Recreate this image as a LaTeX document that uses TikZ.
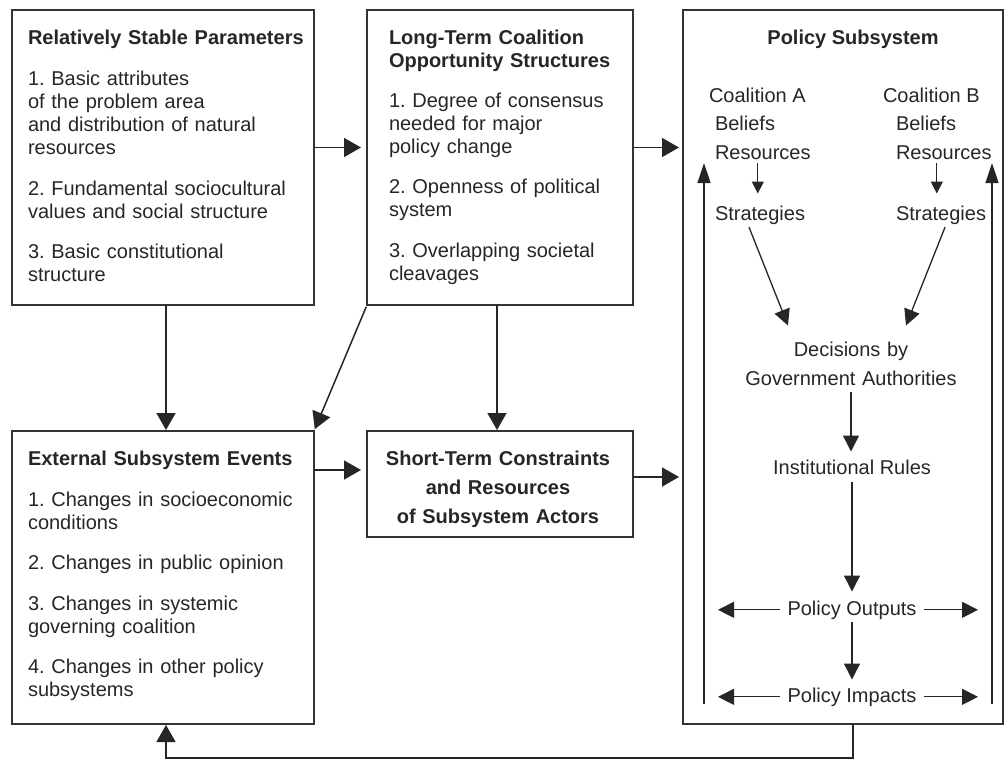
\documentclass[tikz,border=0pt]{standalone}
\usepackage{fontspec}
\setmainfont{Liberation Sans}
\usetikzlibrary{arrows.meta,calc}
\frenchspacing
\begin{document}
\begin{tikzpicture}[x=1pt,y=-1pt,
  box/.style={draw=black!80, line width=1.8pt, inner sep=0pt, outer sep=0pt, anchor=north west},
  txt/.style={inner sep=0pt, outer sep=0pt, font=\fontsize{20}{23}\selectfont, text=black!85},
  big/.style={-{Triangle[length=17pt,width=19pt]}, line width=1.5pt, draw=black!85},
  mid/.style={-{Triangle[length=16pt,width=16pt]}, line width=1.3pt, draw=black!85},
  small/.style={-{Triangle[length=12pt,width=12pt]}, line width=1.3pt, draw=black!85},
  tall/.style={-{Triangle[length=20pt,width=13pt]}, line width=1.3pt, draw=black!85},
]
\useasboundingbox (0,0) rectangle (1005,761);

% boxes
\node[box, minimum width=302pt, minimum height=295pt] (b1) at (12,10) {};
\node[box, minimum width=266pt, minimum height=295pt] (b2) at (367,10) {};
\node[box, minimum width=320pt, minimum height=714pt] (b3) at (683,10) {};
\node[box, minimum width=302pt, minimum height=293pt] (b4) at (12,431) {};
\node[box, minimum width=266pt, minimum height=106pt] (b5) at (367,431) {};

% box texts
\node[txt, text width=284pt, align=left, anchor=base west] (t1) at (28,44)
 {\textbf{Relatively Stable Parameters}\\[18pt]
  1. Basic attributes\\ of the problem area\\ and distribution of natural\\ resources\\[18pt]
  2. Fundamental sociocultural\\ values and social structure\\[17pt]
  3. Basic constitutional\\ structure};
\node[txt, text width=240pt, align=left, anchor=base west] (t2) at (389,44)
 {\textbf{Long-Term Coalition}\\ \textbf{Opportunity Structures}\\[17pt]
  1. Degree of consensus\\ needed for major\\ policy change\\[17pt]
  2. Openness of political\\ system\\[18pt]
  3. Overlapping societal\\ cleavages};
\node[txt, text width=284pt, align=left, anchor=base west] (t4) at (28,465)
 {\textbf{External Subsystem Events}\\[18pt]
  1. Changes in socioeconomic\\ conditions\\[17pt]
  2. Changes in public opinion\\[18pt]
  3. Changes in systemic\\ governing coalition\\[17pt]
  4. Changes in other policy\\ subsystems};
\node[txt, font=\bfseries\fontsize{20}{29}\selectfont, text width=260pt, align=center, anchor=base] (t5) at (498,465)
 {Short-Term Constraints\\ and Resources\\ of Subsystem Actors};

% policy subsystem
\node[txt, font=\bfseries\fontsize{20}{23}\selectfont, anchor=base] (ps) at (853,44) {Policy Subsystem};
\node[txt, anchor=base west] (cA) at (709,102) {Coalition A};
\node[txt, anchor=base west] (bA) at (715,130) {Beliefs};
\node[txt, anchor=base west] (rA) at (715,159) {Resources};
\node[txt, anchor=base west] (sA) at (715,220) {Strategies};
\node[txt, anchor=base west] (cB) at (883,102) {Coalition B};
\node[txt, anchor=base west] (bB) at (896,130) {Beliefs};
\node[txt, anchor=base west] (rB) at (896,159) {Resources};
\node[txt, anchor=base west] (sB) at (896,220) {Strategies};
\node[txt, font=\fontsize{20}{29}\selectfont, text width=240pt, align=center, anchor=base] (dec) at (851,356)
 {Decisions by\\ Government Authorities};
\node[txt, anchor=base] (inst) at (852,474) {Institutional Rules};
\node[txt, anchor=base] (out) at (852,615) {Policy Outputs};
\node[txt, anchor=base] (imp) at (852,702) {Policy Impacts};

\coordinate (lb) at (704,704);
\coordinate (lt) at (704,163);
\coordinate (rb) at (992,704);
\coordinate (rt) at (992,163);

% connectors between boxes
\draw[big, shorten >=6pt] ([yshift=10pt]b1.east) -- ([yshift=10pt]b2.west);
\draw[big, shorten >=4pt] ([yshift=10pt]b2.east) -- ([yshift=10pt]b2.east -| b3.west);
\draw[big, shorten >=1pt] ([xshift=3pt]b1.south) -- ([xshift=3pt]b1.south |- b4.north);
\draw[big, shorten >=1pt] ([xshift=-3pt]b2.south) -- ([xshift=-3pt]b2.south |- b5.north);
\draw[big, shorten <=2pt, shorten >=2pt] (b2.south west) -- (b4.north east);
\draw[big, shorten >=6pt] ([yshift=14pt]b5.west -| b4.east) -- ([yshift=14pt]b5.west);
\draw[big, shorten >=4pt] ([yshift=7pt]b5.east) -- ([yshift=7pt]b5.east -| b3.west);
\draw[big, shorten >=1pt] ([xshift=10pt]b3.south) -- ++(0,34) -| ([xshift=3pt]b4.south);

% inside policy subsystem
\draw[small, shorten <=4pt, shorten >=12pt] ([xshift=-5pt]rA.south) -- ([xshift=-5pt]rA.south |- sA.north);
\draw[small, shorten <=4pt, shorten >=12pt] ([xshift=-7pt]rB.south) -- ([xshift=-7pt]rB.south |- sB.north);
\draw[mid] ([xshift=-11pt,yshift=-3pt]sA.south) -- ([xshift=-63pt,yshift=16pt]dec.north);
\draw[mid] ([xshift=4pt,yshift=-3pt]sB.south) -- ([xshift=55pt,yshift=16pt]dec.north);
\draw[mid, shorten <=7pt, shorten >=8pt] (dec.south) -- (dec.south |- inst.north);
\draw[mid, shorten <=8pt, shorten >=9pt] (inst.south) -- (out.north);
\draw[mid, shorten <=3pt, shorten >=8pt] (out.south) -- (imp.north);
\draw[mid, shorten <=8pt, shorten >=14pt] (out.west) -- (out.west -| lb);
\draw[mid, shorten <=8pt, shorten >=14pt] (out.east) -- (out.east -| rb);
\draw[mid, shorten <=8pt, shorten >=14pt] (imp.west) -- (imp.west -| lb);
\draw[mid, shorten <=8pt, shorten >=14pt] (imp.east) -- (imp.east -| rb);
\draw[tall] (lb) -- (lt);
\draw[tall] (rb) -- (rt);
\end{tikzpicture}
\end{document}
